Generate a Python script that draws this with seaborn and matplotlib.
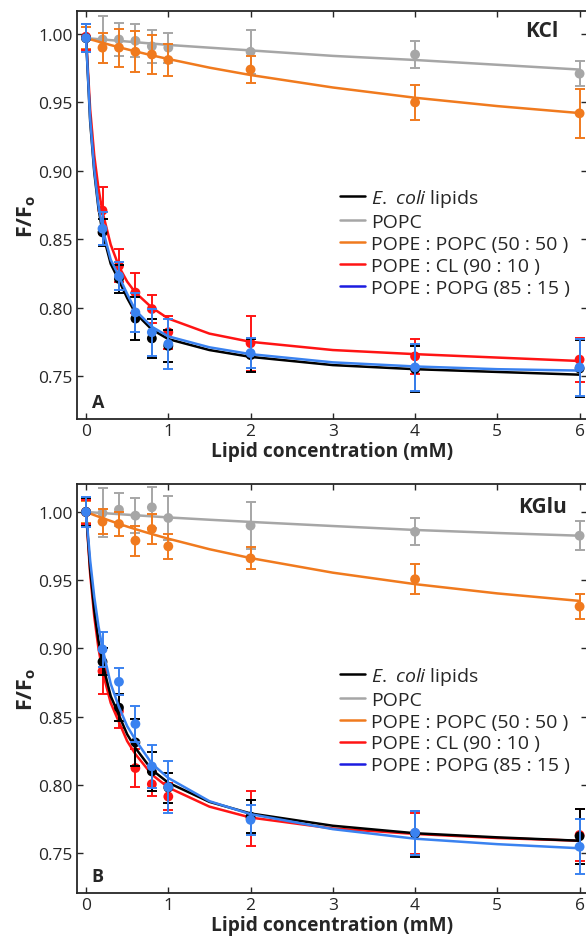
import numpy as np
import pandas as pd
import matplotlib
matplotlib.use('Agg')
import matplotlib.pyplot as plt
from matplotlib.lines import Line2D
import seaborn as sns

# Concentrations where data were measured (mM)
CONC = [0, 0.2, 0.4, 0.6, 0.8, 1, 2, 4, 6]
# x grid used for the fitted curves
CURVE_X = [0, 0.05, 0.1, 0.15, 0.2, 0.3, 0.4, 0.5, 0.6, 0.8, 1, 1.5, 2, 3, 4, 5, 6]

SERIES = ['ecoli', 'popc', 'pope_popc', 'pope_cl', 'pope_popg']
LABELS = [r'$\mathit{E.\ coli}$ lipids', 'POPC', 'POPE : POPC (50 : 50 )',
          'POPE : CL (90 : 10 )', 'POPE : POPG (85 : 15 )']

# ---- Panel A: KCl ----
KCL_ECOLI = [0.997, 0.855, 0.821, 0.792, 0.7775, 0.772, 0.7653, 0.755, 0.7555]
KCL_ECOLI_ERR = [0.010, 0.010, 0.010, 0.016, 0.014, 0.012, 0.012, 0.017, 0.021]
KCL_POPC = [0.997, 0.996, 0.996, 0.995, 0.991, 0.990, 0.987, 0.985, 0.971]
KCL_POPC_ERR = [0.008, 0.017, 0.012, 0.012, 0.012, 0.011, 0.016, 0.010, 0.009]
KCL_PEPC = [0.997, 0.990, 0.990, 0.987, 0.985, 0.981, 0.974, 0.950, 0.942]
KCL_PEPC_ERR = [0.008, 0.011, 0.014, 0.015, 0.014, 0.012, 0.010, 0.013, 0.018]
KCL_CL = [0.998, 0.871, 0.8305, 0.811, 0.799, 0.782, 0.774, 0.7644, 0.762]
KCL_CL_ERR = [0.0095, 0.017, 0.012, 0.0146, 0.010, 0.012, 0.020, 0.013, 0.016]
KCL_PG = [0.997, 0.8577, 0.823, 0.7965, 0.782, 0.7734, 0.7668, 0.7563, 0.7563]
KCL_PG_ERR = [0.010, 0.012, 0.010, 0.014, 0.017, 0.018, 0.011, 0.017, 0.021]

KCL_ECOLI_FIT = [0.997, 0.936, 0.899, 0.873, 0.855, 0.832, 0.820, 0.807, 0.796,
                 0.784, 0.777, 0.769, 0.764, 0.758, 0.755, 0.753, 0.751]
KCL_POPC_FIT = [0.997, 0.9967, 0.9965, 0.9962, 0.996, 0.9955, 0.995, 0.9945, 0.994,
                0.993, 0.992, 0.990, 0.988, 0.984, 0.981, 0.9775, 0.974]
KCL_PEPC_FIT = [0.997, 0.9961, 0.9953, 0.9944, 0.9936, 0.9919, 0.9903, 0.9888, 0.9873,
                0.9844, 0.9817, 0.9754, 0.970, 0.9609, 0.9534, 0.9473, 0.9422]
KCL_CL_FIT = [0.998, 0.945, 0.911, 0.8875, 0.870, 0.846, 0.830, 0.819, 0.811,
              0.800, 0.792, 0.781, 0.775, 0.769, 0.766, 0.7635, 0.761]
KCL_PG_FIT = [0.997, 0.938, 0.901, 0.875, 0.858, 0.835, 0.823, 0.810, 0.798,
              0.786, 0.779, 0.771, 0.766, 0.760, 0.757, 0.755, 0.754]

# ---- Panel B: KGlu ----
KGLU_ECOLI = [1.000, 0.8902, 0.8566, 0.8311, 0.8098, 0.798, 0.7767, 0.764, 0.7623]
KGLU_ECOLI_ERR = [0.010, 0.010, 0.010, 0.017, 0.014, 0.011, 0.012, 0.017, 0.020]
KGLU_POPC = [1.000, 0.9993, 1.0017, 0.9973, 1.0034, 0.9956, 0.990, 0.9855, 0.9826]
KGLU_POPC_ERR = [0.010, 0.018, 0.012, 0.013, 0.015, 0.016, 0.017, 0.010, 0.0105]
KGLU_PEPC = [1.000, 0.9929, 0.9912, 0.979, 0.9875, 0.9748, 0.966, 0.9507, 0.9307]
KGLU_PEPC_ERR = [0.008, 0.009, 0.009, 0.011, 0.011, 0.009, 0.008, 0.011, 0.009]
KGLU_CL = [1.000, 0.8833, 0.854, 0.8123, 0.8005, 0.7914, 0.7755, 0.7645, 0.7632]
KGLU_CL_ERR = [0.009, 0.017, 0.012, 0.014, 0.009, 0.010, 0.020, 0.015, 0.019]
KGLU_PG = [1.000, 0.8993, 0.8755, 0.8446, 0.8135, 0.7983, 0.7743, 0.7649, 0.7546]
KGLU_PG_ERR = [0.011, 0.0127, 0.010, 0.013, 0.016, 0.019, 0.011, 0.016, 0.020]

KGLU_ECOLI_FIT = [1.000, 0.958, 0.928, 0.906, 0.889, 0.865, 0.851, 0.837, 0.827,
                  0.811, 0.8015, 0.7875, 0.779, 0.770, 0.7645, 0.7615, 0.759]
KGLU_POPC_FIT = [1.000, 0.9998, 0.9996, 0.9994, 0.9992, 0.9988, 0.9984, 0.998, 0.9976,
                 0.9968, 0.996, 0.9943, 0.9927, 0.9897, 0.9868, 0.9846, 0.9826]
KGLU_PEPC_FIT = [1.000, 0.9988, 0.9977, 0.9966, 0.9955, 0.9934, 0.9913, 0.9893, 0.9874,
                 0.9838, 0.9804, 0.9727, 0.9662, 0.9555, 0.9471, 0.9403, 0.9348]
KGLU_CL_FIT = [1.000, 0.9546, 0.9233, 0.9004, 0.883, 0.860, 0.846, 0.832, 0.8225,
               0.8075, 0.798, 0.784, 0.776, 0.768, 0.764, 0.761, 0.759]
KGLU_PG_FIT = [1.000, 0.9645, 0.9377, 0.9167, 0.900, 0.874, 0.857, 0.843, 0.833,
               0.8155, 0.805, 0.788, 0.7785, 0.7675, 0.7605, 0.7565, 0.7535]

# colours of the data and of the legend handles
COLORS = {'ecoli': '#000000', 'popc': '#a6a6a6', 'pope_popc': '#f07a1e',
          'pope_cl': '#ff1414', 'pope_popg': '#3a82f0'}
LEGEND_COLORS = ['#000000', '#a6a6a6', '#f07a1e', '#ff1414', '#1c1ce0']
DRAW_ORDER = ['popc', 'pope_popc', 'pope_cl', 'ecoli', 'pope_popg']

sns.set_style('ticks')
plt.rcParams['font.family'] = ['Open Sans', 'DejaVu Sans']
plt.rcParams['mathtext.fontset'] = 'custom'
plt.rcParams['mathtext.rm'] = 'Open Sans'
plt.rcParams['mathtext.it'] = 'Open Sans:italic'
plt.rcParams['mathtext.bf'] = 'Open Sans:bold'

fig = plt.figure(figsize=(5.86, 9.45), dpi=100)
ax_a = fig.add_axes([77 / 586, 1 - 420 / 945, 510 / 586, 408 / 945])
ax_b = fig.add_axes([77 / 586, 1 - 894 / 945, 510 / 586, 409 / 945])


def draw_panel(ax, points, errors, fits, ylim, salt, salt_xy, letter, legend_y):
    for i, key in enumerate(DRAW_ORDER):
        c = COLORS[key]
        z = 3 + i
        df_fit = pd.DataFrame({'x': CURVE_X, 'y': fits[key]})
        sns.lineplot(data=df_fit, x='x', y='y', color=c, lw=1.8, ax=ax,
                     legend=False, zorder=z)
        ax.errorbar(CONC, points[key], yerr=errors[key], fmt='none', ecolor=c,
                    elinewidth=1.4, capsize=3.5, capthick=1.4, zorder=z)
        df_pts = pd.DataFrame({'x': CONC, 'y': points[key]})
        sns.scatterplot(data=df_pts, x='x', y='y', color=c, s=50,
                        edgecolor='none', ax=ax, legend=False, zorder=z + 0.5)

    ax.set_xlim(-0.11, 6.09)
    ax.set_ylim(*ylim)
    ax.set_xticks(range(7))
    ax.set_yticks(np.arange(0.75, 1.001, 0.05))
    ax.yaxis.set_major_formatter(matplotlib.ticker.FormatStrFormatter('%.2f'))
    ax.tick_params(direction='in', length=4, width=1, top=True, right=True,
                   labelsize=12.5, pad=3)
    for s in ['left', 'bottom', 'top']:
        ax.spines[s].set_linewidth(1.3)
    ax.spines['right'].set_visible(False)

    ax.set_xlabel('Lipid concentration (mM)', fontsize=13.8, fontweight='bold',
                  labelpad=1)
    ax.set_ylabel(r'$\mathbf{F/F_o}$', fontsize=15.5, labelpad=0)

    ax.text(salt_xy[0], salt_xy[1], salt, transform=ax.transAxes, ha='right',
            va='center', fontsize=15, fontweight='bold')
    ax.text(0.029, 0.042, letter, transform=ax.transAxes, ha='left',
            va='center', fontsize=13, fontweight='bold')

    handles = [Line2D([0], [0], color=c, lw=1.8) for c in LEGEND_COLORS]
    ax.legend(handles, LABELS, loc='upper left', bbox_to_anchor=(0.516, legend_y),
              frameon=False, fontsize=14, handlelength=1.3, handletextpad=0.3,
              labelspacing=0.2, borderpad=0, borderaxespad=0)


draw_panel(ax_a,
           dict(zip(SERIES, [KCL_ECOLI, KCL_POPC, KCL_PEPC, KCL_CL, KCL_PG])),
           dict(zip(SERIES, [KCL_ECOLI_ERR, KCL_POPC_ERR, KCL_PEPC_ERR, KCL_CL_ERR, KCL_PG_ERR])),
           dict(zip(SERIES, [KCL_ECOLI_FIT, KCL_POPC_FIT, KCL_PEPC_FIT, KCL_CL_FIT, KCL_PG_FIT])),
           (0.7186, 1.0168), 'KCl', (0.943, 0.951), 'A', 0.5686)

draw_panel(ax_b,
           dict(zip(SERIES, [KGLU_ECOLI, KGLU_POPC, KGLU_PEPC, KGLU_CL, KGLU_PG])),
           dict(zip(SERIES, [KGLU_ECOLI_ERR, KGLU_POPC_ERR, KGLU_PEPC_ERR, KGLU_CL_ERR, KGLU_PG_ERR])),
           dict(zip(SERIES, [KGLU_ECOLI_FIT, KGLU_POPC_FIT, KGLU_PEPC_FIT, KGLU_CL_FIT, KGLU_PG_FIT])),
           (0.7207, 1.0205), 'KGlu', (0.961, 0.944), 'B', 0.558)

fig.savefig('out.png', dpi=100)
